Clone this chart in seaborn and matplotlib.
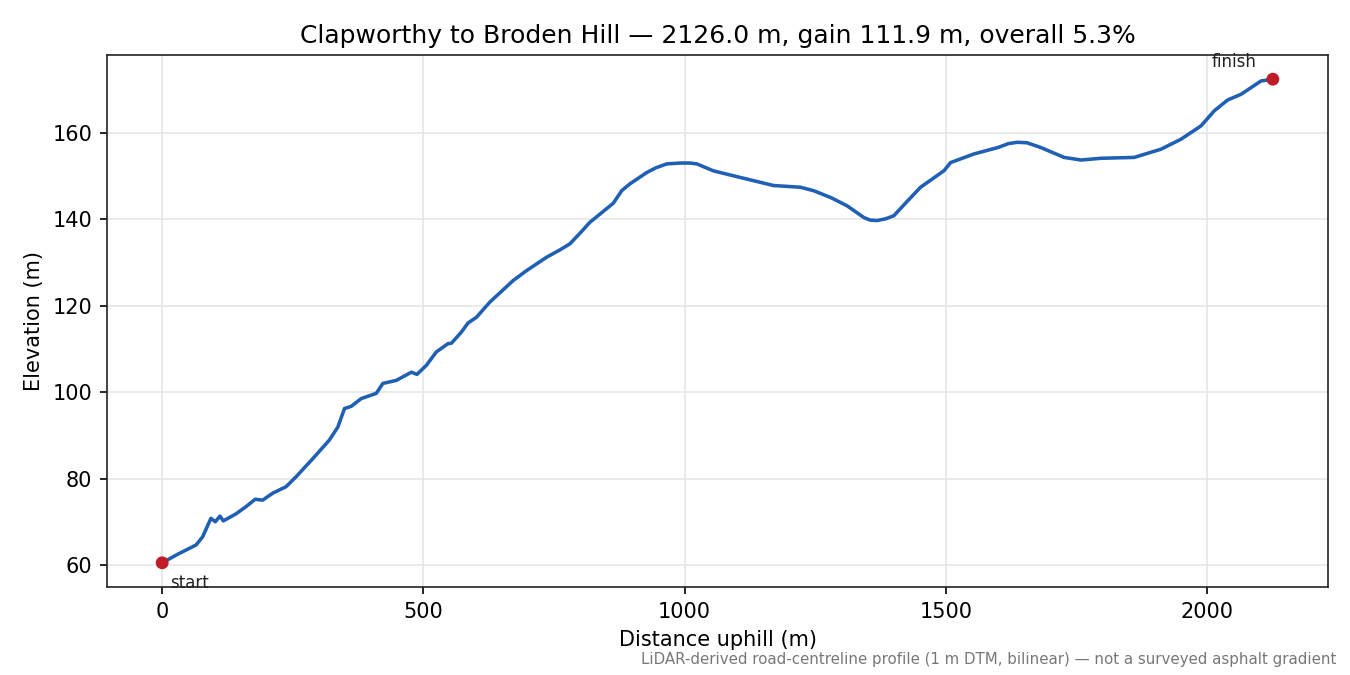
import numpy as np
import pandas as pd
import matplotlib
matplotlib.use("Agg")
import matplotlib.pyplot as plt
import seaborn as sns

distance_m = [0, 30, 64.6, 77.4, 93.3, 101.6, 110.6, 117, 141, 160.5, 178, 192.4, 211.5, 237,
              256.3, 288.3, 320, 336.2, 349, 361.8, 381, 409.8, 422.4, 448, 477, 487.7,
              505.7, 524.8, 547, 553.6, 572.8, 585.5, 601.5, 627, 671.7, 697.4, 735.7,
              761.3, 780.4, 800, 818.8, 863.5, 879.6, 895.5, 927.5, 945, 965.9, 991.4, 1010,
              1023.4, 1055, 1085, 1119, 1170, 1221.5, 1247, 1280, 1311, 1330, 1343, 1355,
              1368.6, 1385, 1400.4, 1425, 1451.6, 1496.3, 1509, 1553.8, 1600, 1620, 1637,
              1655, 1681.7, 1726.4, 1759, 1797, 1860.6, 1911.8, 1950, 1988.5, 2014, 2039.6,
              2065, 2103.5, 2126.0]
elevation_m = [60.5, 62.5, 64.6, 66.5, 70.8, 70.0, 71.3, 70.2, 71.8, 73.5, 75.2, 75.0, 76.6, 78.1,
               80.4, 84.6, 88.9, 91.9, 96.2, 96.7, 98.5, 99.7, 102.0, 102.7, 104.6, 104.1,
               106.2, 109.3, 111.2, 111.3, 113.9, 116.0, 117.3, 120.8, 125.8, 128.1, 131.2,
               132.9, 134.3, 136.8, 139.3, 143.7, 146.6, 148.2, 150.8, 151.9, 152.8, 153.0, 153.0,
               152.8, 151.2, 150.3, 149.3, 147.8, 147.4, 146.6, 145.0, 143.1, 141.5, 140.4, 139.8,
               139.7, 140.1, 140.8, 144.0, 147.4, 151.2, 153.1, 155.1, 156.6, 157.5, 157.8,
               157.7, 156.6, 154.3, 153.7, 154.1, 154.3, 156.2, 158.5, 161.6, 165.1, 167.6,
               168.9, 172.0, 172.4]
end_labels = ["start", "finish"]

title = "Clapworthy to Broden Hill \u2014 2126.0 m, gain 111.9 m, overall 5.3%"
footnote = "LiDAR-derived road-centreline profile (1 m DTM, bilinear) \u2014 not a surveyed asphalt gradient"

sns.set_theme(style="ticks", rc={"text.color": "black", "axes.labelcolor": "black",
                                 "xtick.color": "black", "ytick.color": "black",
                                 "axes.edgecolor": "#222222"})
plt.rcParams['font.family'] = ['DejaVu Sans']

df = pd.DataFrame({"d": distance_m, "e": elevation_m})
ends = pd.DataFrame({"d": [distance_m[0], distance_m[-1]],
                     "e": [elevation_m[0], elevation_m[-1]],
                     "lab": end_labels})

fig, ax = plt.subplots(figsize=(9, 4.5), dpi=150)
fig.subplots_adjust(left=0.079, right=0.984, top=0.9185, bottom=0.1304)

sns.lineplot(data=df, x="d", y="e", ax=ax, color="#1f5fb4", linewidth=1.7)
sns.scatterplot(data=ends, x="d", y="e", ax=ax, color="#c01c28", s=38, edgecolor="none", zorder=5)

ax.annotate(ends.lab[0], (ends.d[0], ends.e[0]), xytext=(4, -12), textcoords="offset points",
            fontsize=8, ha="left", color="#222222")
ax.annotate(ends.lab[1], (ends.d[1], ends.e[1]), xytext=(-8, 6), textcoords="offset points",
            fontsize=8, ha="right", color="#222222")

ax.margins(x=0.05, y=0.05)
ax.grid(True, color="#e6e6e6", linewidth=0.8)
ax.set_axisbelow(True)
for s in ax.spines.values():
    s.set_linewidth(0.8)
ax.set_yticks([60, 80, 100, 120, 140, 160])
ax.set_xticks([0, 500, 1000, 1500, 2000])
ax.tick_params(labelsize=10, length=3.5, width=0.8)
ax.set_xlabel("Distance uphill (m)", fontsize=10, labelpad=4)
ax.set_ylabel("Elevation (m)", fontsize=10, labelpad=4)
ax.set_title(title, fontsize=12, pad=6)
fig.text(0.9896, 0.012, footnote, ha="right", va="bottom", fontsize=7.2, color="#777777")

fig.savefig("out.png", dpi=150)
